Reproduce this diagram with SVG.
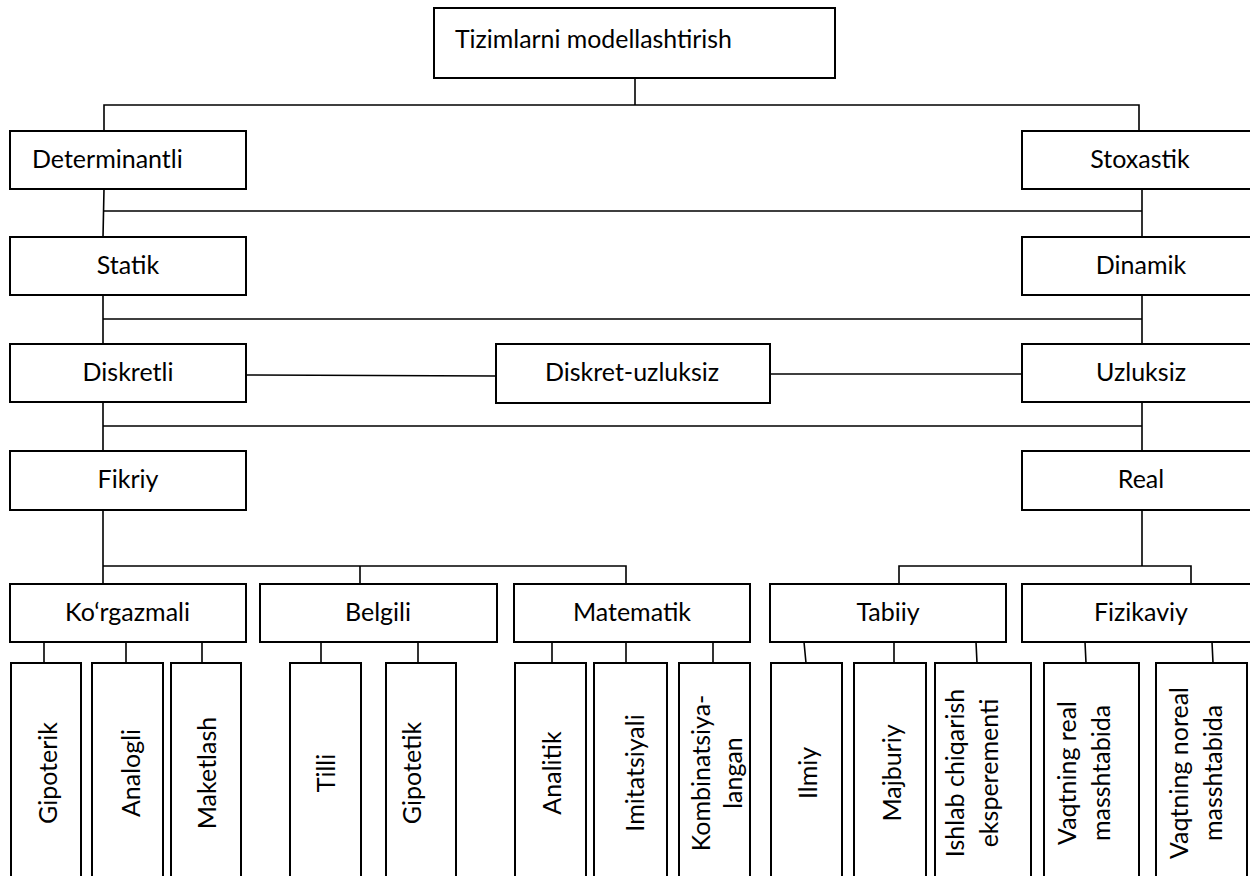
<svg xmlns="http://www.w3.org/2000/svg" width="1250" height="876" viewBox="0 0 1250 876">
<style>
.box{fill:#fff;stroke:#000;stroke-width:2}
.t{font-family:Lato,"Liberation Sans",sans-serif;font-size:25px;fill:#000}
.m{text-anchor:middle}
#connectors path{fill:none;stroke:#000;stroke-width:1.6}
</style>
<rect width="1250" height="876" fill="#fff"/>
<g id="connectors">
<path d="M635 78V105"/>
<path d="M104 131V105H1139V131"/>
<path d="M104 189L103 237M1142 189V237M103 211H1142"/>
<path d="M103 295V344M1142 295V344M103 319H1142"/>
<path d="M246 375L496 376M770 374H1022"/>
<path d="M103 402V451M1142 402V451M103 426H1142"/>
<path d="M103 510V584M103 566H626V584M360 566V584"/>
<path d="M1142 510V566M899 584V566H1191V584"/>
<path d="M44 642V663M126 642V663M202 642V663M321 642V663M418 642V663M552 642V663M626 642V663M713 642V663M804 642L806 663M894 642V663M976 642L977 663M1085 642L1086 663M1212 642L1213 663"/>
</g>
<g id="n-root"><rect class="box" x="434" y="8" width="401" height="70"/><text class="t" x="455" y="48" textLength="277" lengthAdjust="spacingAndGlyphs">Tizimlarni modellashtirish</text></g>
<g id="n-determinantli"><rect class="box" x="10" y="131" width="236" height="58"/><text class="t" x="32" y="168">Determinantli</text></g>
<g id="n-stoxastik"><rect class="box" x="1022" y="131" width="240" height="58"/><text class="t m" x="1140" y="168">Stoxastik</text></g>
<g id="n-statik"><rect class="box" x="10" y="237" width="236" height="58"/><text class="t m" x="128" y="274">Statik</text></g>
<g id="n-dinamik"><rect class="box" x="1022" y="237" width="240" height="58"/><text class="t m" x="1141" y="274">Dinamik</text></g>
<g id="n-diskretli"><rect class="box" x="10" y="344" width="236" height="58"/><text class="t m" x="128" y="381">Diskretli</text></g>
<g id="n-diskret-uzluksiz"><rect class="box" x="496" y="344" width="274" height="59"/><text class="t m" x="632" y="381">Diskret-uzluksiz</text></g>
<g id="n-uzluksiz"><rect class="box" x="1022" y="344" width="240" height="58"/><text class="t m" x="1141" y="381">Uzluksiz</text></g>
<g id="n-fikriy"><rect class="box" x="10" y="451" width="236" height="59"/><text class="t m" x="128" y="488">Fikriy</text></g>
<g id="n-real"><rect class="box" x="1022" y="451" width="240" height="59"/><text class="t m" x="1141" y="488">Real</text></g>
<g id="n-korgazmali"><rect class="box" x="10" y="584" width="236" height="58"/><text class="t m" x="127.5" y="621">Ko‘rgazmali</text></g>
<g id="n-belgili"><rect class="box" x="260" y="584" width="237" height="58"/><text class="t m" x="378" y="621">Belgili</text></g>
<g id="n-matematik"><rect class="box" x="514" y="584" width="236" height="58"/><text class="t m" x="632" y="621">Matematik</text></g>
<g id="n-tabiiy"><rect class="box" x="770" y="584" width="236" height="58"/><text class="t m" x="888" y="621">Tabiiy</text></g>
<g id="n-fizikaviy"><rect class="box" x="1022" y="584" width="240" height="58"/><text class="t m" x="1141" y="621">Fizikaviy</text></g>
<g id="n-gipoterik"><rect class="box" x="11" y="663" width="70" height="230"/><text class="t m" transform="translate(57 773) rotate(-90)">Gipoterik</text></g>
<g id="n-analogli"><rect class="box" x="92" y="663" width="71" height="230"/><text class="t m" transform="translate(140 773) rotate(-90)">Analogli</text></g>
<g id="n-maketlash"><rect class="box" x="171" y="663" width="70" height="230"/><text class="t m" transform="translate(216 773) rotate(-90)">Maketlash</text></g>
<g id="n-tilli"><rect class="box" x="290" y="663" width="71" height="230"/><text class="t m" transform="translate(335 773) rotate(-90)">Tilli</text></g>
<g id="n-gipotetik"><rect class="box" x="386" y="663" width="70" height="230"/><text class="t m" transform="translate(421 773) rotate(-90)">Gipotetik</text></g>
<g id="n-analitik"><rect class="box" x="515" y="663" width="71" height="230"/><text class="t m" transform="translate(561 773) rotate(-90)">Analitik</text></g>
<g id="n-imitatsiyali"><rect class="box" x="594" y="663" width="73" height="230"/><text class="t m" transform="translate(644 773) rotate(-90)">Imitatsiyali</text></g>
<g id="n-kombinatsiyalangan"><rect class="box" x="679" y="663" width="71" height="230"/><text class="t m" transform="translate(710 773) rotate(-90)">Kombinatsiya-</text><text class="t m" transform="translate(742 773) rotate(-90)">langan</text></g>
<g id="n-ilmiy"><rect class="box" x="771" y="663" width="71" height="230"/><text class="t m" transform="translate(817 773) rotate(-90)">Ilmiy</text></g>
<g id="n-majburiy"><rect class="box" x="854" y="663" width="72" height="230"/><text class="t m" transform="translate(901 773) rotate(-90)">Majburiy</text></g>
<g id="n-ishlab"><rect class="box" x="935" y="663" width="96" height="230"/><text class="t m" transform="translate(964 773) rotate(-90)">Ishlab chiqarish</text><text class="t m" transform="translate(998 773) rotate(-90)">eksperementi</text></g>
<g id="n-vaqt-real"><rect class="box" x="1044" y="663" width="95" height="230"/><text class="t m" transform="translate(1076 773) rotate(-90)">Vaqtning real</text><text class="t m" transform="translate(1110 773) rotate(-90)">masshtabida</text></g>
<g id="n-vaqt-noreal"><rect class="box" x="1156" y="663" width="91" height="230"/><text class="t m" transform="translate(1188 773) rotate(-90)">Vaqtning noreal</text><text class="t m" transform="translate(1222 773) rotate(-90)">masshtabida</text></g>
</svg>
